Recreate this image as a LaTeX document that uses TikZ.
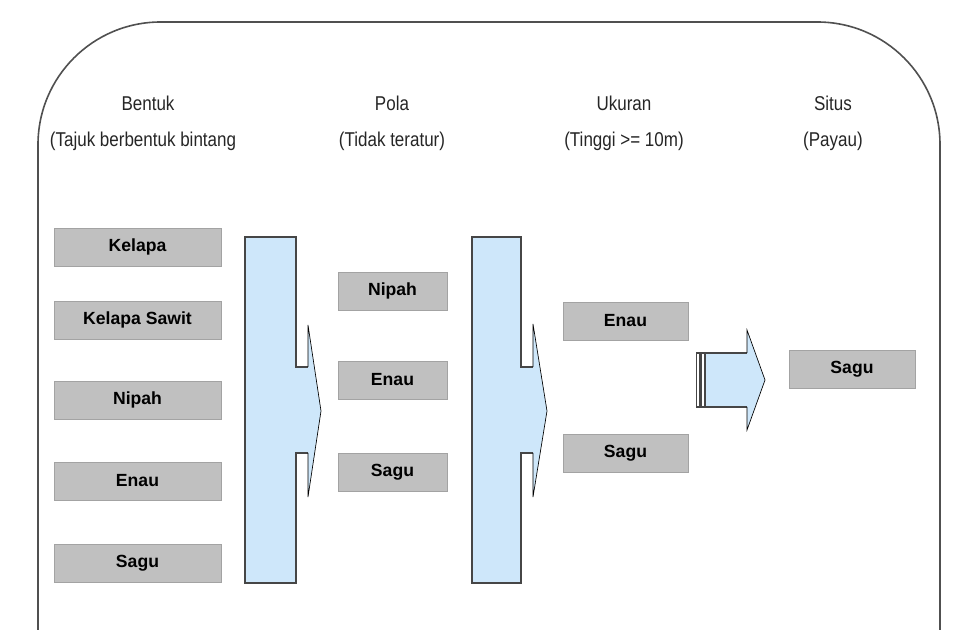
\documentclass[tikz,border=0pt]{standalone}
\usepackage{fontspec}
\setmainfont{Liberation Sans}
\newfontfamily\headfont[FakeStretch=0.85]{Liberation Sans}
\definecolor{boxgrey}{RGB}{192,192,192}
\definecolor{arrowblue}{RGB}{206,231,250}
\definecolor{framegrey}{RGB}{80,80,80}
\definecolor{edgegrey}{RGB}{70,70,70}
\begin{document}
\begin{tikzpicture}[x=0.75pt,y=-0.75pt,
  box/.style={fill=boxgrey, draw=boxgrey!85!black, line width=0.3pt, minimum height=28.5pt, inner sep=0pt,
    font=\bfseries\fontsize{13.2}{15}\selectfont},
  wA/.style={minimum width=125.25pt},
  wB/.style={minimum width=81.75pt},
  wC/.style={minimum width=93.75pt},
  wD/.style={minimum width=94.5pt},
  head/.style={font=\headfont\fontsize{15}{17}\selectfont, text=black!85, inner sep=0pt},
  bigarrow/.style={fill=arrowblue, draw=edgegrey, line width=1.2pt, line join=miter},
  tipedge/.style={draw=black, line width=0.5pt}
]
\useasboundingbox (0,0) rectangle (960,630);
% frame
\draw[framegrey, line width=1.2pt, rounded corners=92] (38,640) -- (38,22) -- (940,22) -- (940,640);

% headings
\node[head] (h1) at (148,103) {Bentuk};
\node[head] (h1b) at (143,141) {(Tajuk berbentuk bintang};
\node[head] (h2) at (392,103) {Pola};
\node[head] (h2b) at (392,141) {(Tidak teratur)};
\node[head] (h3) at (624,103) {Ukuran};
\node[head] (h3b) at (624,141) {(Tinggi >= 10m)};
\node[head] (h4) at (833,103) {Situs};
\node[head] (h4b) at (833,141) {(Payau)};

% column 1
\node[box,wA] (a1) at (137.5,247) {Kelapa};
\node[box,wA] (a2) at (137.5,320) {Kelapa Sawit};
\node[box,wA] (a3) at (137.5,400) {Nipah};
\node[box,wA] (a4) at (137.5,481) {Enau};
\node[box,wA] (a5) at (137.5,563) {Sagu};
% column 2
\node[box,wB] (b1) at (392.5,291) {Nipah};
\node[box,wB] (b2) at (392.5,380) {Enau};
\node[box,wB] (b3) at (392.5,472) {Sagu};
% column 3
\node[box,wC] (c1) at (625.5,321) {Enau};
\node[box,wC] (c2) at (625.5,453) {Sagu};
% column 4
\node[box,wD] (d1) at (852,369) {Sagu};

% big arrow 1
\fill[arrowblue] (245,237) -- (296,237) -- (296,367) -- (308,367) -- (308,325) -- (321,411) -- (308,497) -- (308,453) -- (296,453) -- (296,583) -- (245,583) -- cycle;
\draw[edgegrey, line width=1.2pt] (308,367) -- (296,367) -- (296,237) -- (245,237) -- (245,583) -- (296,583) -- (296,453) -- (308,453);
\draw[tipedge] (308,367) -- (308,325) -- (321,411) -- (308,497) -- (308,453);

% big arrow 2
\fill[arrowblue] (472,237) -- (521,237) -- (521,367) -- (533,367) -- (533,324) -- (547,411) -- (533,497) -- (533,453) -- (521,453) -- (521,583) -- (472,583) -- cycle;
\draw[edgegrey, line width=1.2pt] (533,367) -- (521,367) -- (521,237) -- (472,237) -- (472,583) -- (521,583) -- (521,453) -- (533,453);
\draw[tipedge] (533,367) -- (533,324) -- (547,411) -- (533,497) -- (533,453);

% small arrow 3
\fill[arrowblue] (705,353) -- (747,353) -- (747,330) -- (765,380) -- (747,430) -- (747,407) -- (705,407) -- cycle;
\draw[edgegrey, line width=1.2pt] (747,353) -- (705,353) -- (705,407) -- (747,407);
\draw[tipedge] (747,353) -- (747,330) -- (765,380) -- (747,430) -- (747,407);
\draw[edgegrey, fill=white, line width=0.9pt] (696.5,353) rectangle (700,407);
\draw[edgegrey, fill=white, line width=0.9pt] (701.5,353) rectangle (705,407);
\end{tikzpicture}
\end{document}
